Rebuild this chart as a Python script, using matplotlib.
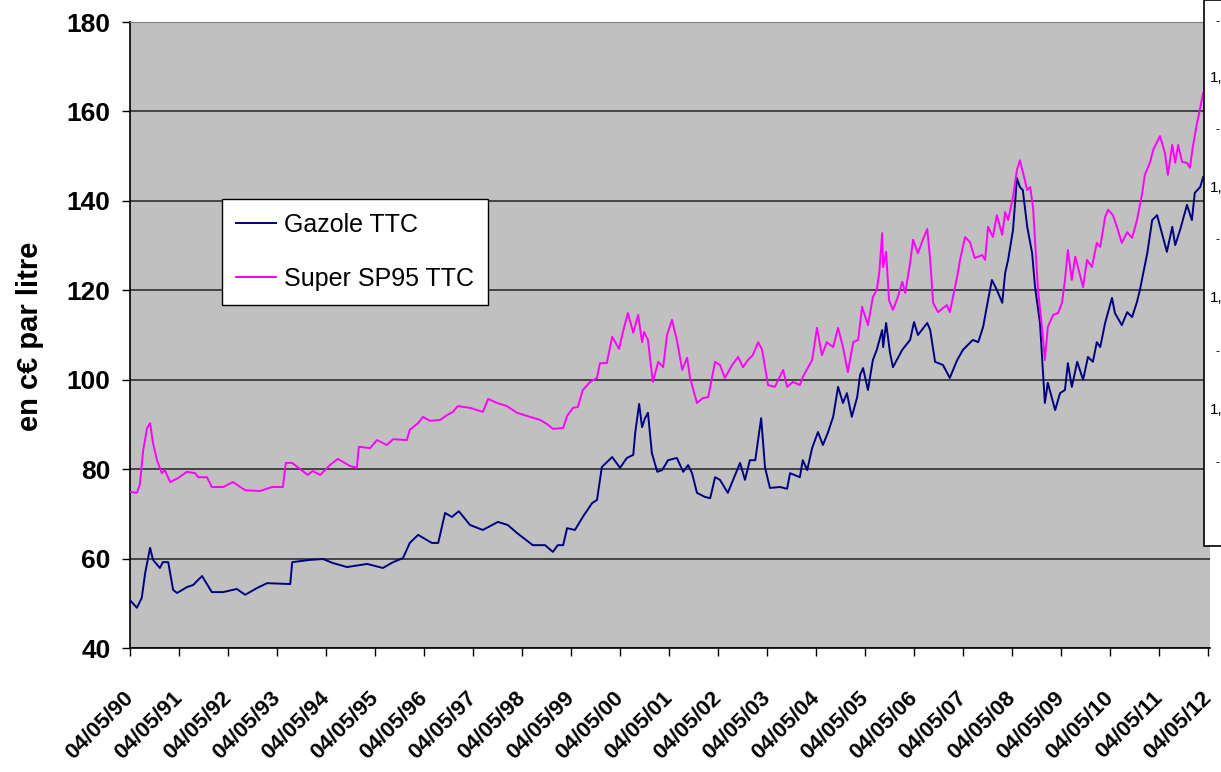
import numpy as np
import matplotlib
matplotlib.use('Agg')
import matplotlib.pyplot as plt
from matplotlib.patches import Rectangle

# prix a la pompe, c€ par litre ; temps en annees depuis le 04/05/90
gazole_t = [0.00, 0.14, 0.24, 0.31, 0.41, 0.47, 0.61, 0.67, 0.78, 0.88, 0.96, 1.16, 1.29, 1.47,
            1.67, 1.90, 2.18, 2.35, 2.59, 2.80, 3.27, 3.31, 3.67, 3.94, 4.14, 4.43, 4.84, 5.16,
            5.37, 5.57, 5.71, 5.88, 6.16, 6.29, 6.43, 6.57, 6.71, 6.94, 7.20, 7.51, 7.71, 7.90,
            8.22, 8.47, 8.63, 8.73, 8.84, 8.92, 9.08, 9.24, 9.43, 9.53, 9.63, 9.84, 10.00, 10.14,
            10.27, 10.31, 10.39, 10.45, 10.51, 10.57, 10.65, 10.76, 10.86, 10.98, 11.16, 11.29,
            11.39, 11.47, 11.57, 11.73, 11.84, 11.94, 12.04, 12.20, 12.45, 12.55, 12.65, 12.76,
            12.88, 12.96, 13.06, 13.27, 13.41, 13.47, 13.67, 13.73, 13.82, 13.92, 14.04, 14.14,
            14.24, 14.35, 14.45, 14.55, 14.63, 14.73, 14.84, 14.90, 14.96, 15.06, 15.16, 15.24,
            15.35, 15.37, 15.43, 15.51, 15.57, 15.76, 15.92, 16.00, 16.08, 16.27, 16.33, 16.43,
            16.59, 16.73, 16.88, 17.00, 17.20, 17.31, 17.41, 17.51, 17.59, 17.69, 17.80, 17.86,
            17.92, 18.02, 18.10, 18.16, 18.22, 18.31, 18.41, 18.47, 18.57, 18.67, 18.73, 18.88,
            18.98, 19.08, 19.14, 19.22, 19.33, 19.45, 19.55, 19.65, 19.73, 19.80, 19.90, 20.04,
            20.10, 20.24, 20.35, 20.45, 20.55, 20.61, 20.76, 20.86, 20.96, 21.08, 21.16, 21.27,
            21.33, 21.43, 21.57, 21.67, 21.73, 21.84, 21.90]
gazole = [50.7, 49.0, 51.2, 56.8, 62.4, 59.7, 57.9, 59.2, 59.2, 53.0, 52.3, 53.6, 54.1, 56.1,
          52.5, 52.5, 53.2, 51.9, 53.4, 54.5, 54.3, 59.2, 59.7, 59.9, 59.0, 58.1, 58.8, 57.9,
          59.2, 60.1, 63.5, 65.3, 63.5, 63.5, 70.2, 69.3, 70.6, 67.5, 66.4, 68.2, 67.5, 65.7,
          63.0, 63.0, 61.5, 63.0, 63.0, 66.8, 66.4, 69.3, 72.4, 73.1, 80.5, 82.7, 80.3, 82.5,
          83.2, 88.1, 94.6, 89.4, 91.4, 92.6, 83.6, 79.4, 79.8, 82.0, 82.5, 79.4,
          80.9, 79.1, 74.7, 73.8, 73.5, 78.2, 77.6, 74.7, 81.4, 77.6, 82.0, 82.0,
          91.4, 80.3, 75.8, 76.0, 75.6, 79.1, 78.2, 82.0, 79.8, 84.7, 88.3, 85.4,
          88.1, 91.7, 98.4, 94.8, 97.0, 91.7, 96.1, 101.1, 102.6, 97.7, 104.4, 106.7,
          111.1, 107.3, 112.7, 106.0, 102.8, 106.7, 108.9, 112.9, 110.0, 112.7, 111.1, 104.0,
          103.3, 100.4, 104.4, 106.7, 108.9, 108.4, 111.8, 117.8, 122.3, 120.1, 117.2, 123.9,
          126.8, 133.5, 145.1, 143.1, 142.4, 134.2, 128.3, 120.7, 112.7, 94.8, 99.3, 93.2,
          97.0, 97.7, 103.7, 98.4, 104.0, 100.0, 105.1, 104.0, 108.4, 107.3, 112.7, 118.3,
          114.9, 112.2, 115.1, 114.0, 117.4, 120.1, 128.3, 135.7, 136.8, 131.9, 128.6, 134.2,
          130.1, 133.5, 139.1, 135.7, 141.8, 143.1, 145.3]

super_t = [0.00, 0.14, 0.20, 0.27, 0.35, 0.41, 0.47, 0.55, 0.65, 0.71, 0.82, 0.98, 1.16, 1.33,
           1.39, 1.57, 1.67, 1.90, 2.10, 2.35, 2.65, 2.90, 3.12, 3.18, 3.31, 3.47, 3.63, 3.73,
           3.88, 4.08, 4.24, 4.49, 4.63, 4.67, 4.90, 5.04, 5.24, 5.37, 5.65, 5.71, 5.88, 5.98,
           6.12, 6.33, 6.47, 6.59, 6.69, 6.94, 7.20, 7.31, 7.49, 7.69, 7.90, 8.16, 8.37, 8.51,
           8.63, 8.84, 8.92, 9.04, 9.14, 9.24, 9.39, 9.53, 9.59, 9.73, 9.84, 9.98, 10.06, 10.16,
           10.27, 10.37, 10.45, 10.49, 10.57, 10.67, 10.78, 10.88, 10.96, 11.06, 11.16, 11.27,
           11.37, 11.43, 11.57, 11.69, 11.80, 11.94, 12.04, 12.14, 12.29, 12.41, 12.51, 12.61,
           12.71, 12.82, 12.90, 13.02, 13.16, 13.33, 13.41, 13.53, 13.67, 13.73, 13.84, 13.92,
           14.02, 14.12, 14.22, 14.35, 14.45, 14.55, 14.65, 14.76, 14.86, 14.94, 15.06, 15.16,
           15.24, 15.29, 15.35, 15.37, 15.43, 15.49, 15.57, 15.67, 15.76, 15.82, 15.92, 15.98,
           16.08, 16.18, 16.27, 16.33, 16.39, 16.49, 16.67, 16.73, 16.88, 16.94, 17.04, 17.14,
           17.24, 17.39, 17.45, 17.51, 17.61, 17.69, 17.80, 17.86, 17.92, 18.02, 18.10, 18.16,
           18.22, 18.31, 18.37, 18.43, 18.53, 18.61, 18.67, 18.73, 18.84, 18.94, 19.02, 19.08,
           19.14, 19.22, 19.29, 19.35, 19.45, 19.53, 19.63, 19.73, 19.80, 19.90, 19.96, 20.06,
           20.14, 20.24, 20.35, 20.45, 20.55, 20.65, 20.71, 20.82, 20.88, 20.96, 21.02, 21.12,
           21.18, 21.27, 21.33, 21.39, 21.47, 21.57, 21.63, 21.69, 21.76, 21.82, 21.90]
super95 = [74.9, 74.7, 76.5, 84.3, 89.2, 90.3, 85.8, 82.0, 79.1, 79.8, 77.1, 78.0, 79.4, 79.1,
           78.2, 78.2, 76.0, 76.0, 77.1, 75.3, 75.1, 76.0, 76.0, 81.4, 81.4, 80.0, 78.7, 79.6,
           78.7, 80.9, 82.3, 80.7, 80.3, 85.0, 84.7, 86.5, 85.4, 86.7, 86.5, 88.8, 90.3, 91.7,
           90.8, 91.0, 92.1, 92.8, 94.1, 93.7, 92.8, 95.7, 94.8, 94.1, 92.6, 91.7, 91.0, 90.1,
           89.0, 89.2, 91.9, 93.7, 93.9, 97.7, 99.5, 100.4, 103.7, 103.7, 109.6, 106.9, 110.7, 114.9,
           110.5, 114.5, 108.4, 110.7, 108.9, 99.5, 104.0, 102.8, 110.0, 113.4, 108.9, 102.2,
           104.9, 100.4, 94.8, 95.9, 96.1, 104.0, 103.3, 100.4, 103.3, 105.1, 102.8, 104.4,
           105.5, 108.4, 106.7, 98.8, 98.4, 102.2, 98.4, 99.5, 98.8, 100.6, 102.8, 104.4,
           111.6, 105.5, 108.4, 107.3, 111.6, 107.3, 101.7, 108.4, 108.9, 116.3, 112.2, 118.5,
           120.1, 123.9, 132.8, 125.2, 128.6, 117.8, 115.6, 118.5, 121.9, 119.4, 126.1, 131.3,
           128.3, 131.3, 133.7, 126.8, 117.2, 115.1, 116.7, 115.1, 123.0, 126.8, 131.9, 130.8,
           127.2, 127.9, 126.8, 134.2, 131.9, 136.8, 132.4, 137.5, 135.7, 140.9, 146.9, 149.1,
           146.5, 142.4, 143.1, 138.4, 120.1, 111.8, 104.4, 111.8, 114.5, 114.9, 117.2, 122.3,
           129.0, 122.3, 127.5, 125.0, 120.7, 126.8, 125.2, 130.6, 129.7, 136.4, 138.0, 136.8,
           134.2, 130.6, 133.0, 131.7, 135.7, 141.3, 145.8, 148.7, 151.4, 153.2, 154.5, 150.7,
           145.8, 152.5, 148.5, 152.5, 148.7, 148.5, 147.4, 152.1, 156.5, 159.7, 164.1]

tick_labels = ['04/05/%02d' % (y % 100) for y in range(1990, 2013)]
y_ticks = [40, 60, 80, 100, 120, 140, 160, 180]

sans = ['Liberation Sans', 'DejaVu Sans']
W, H = 1221, 772

fig = plt.figure(figsize=(W / 100, H / 100), dpi=100)
ax = fig.add_axes([130 / W, 1 - 648 / H, 1080 / W, 626 / H])
ax.set_facecolor('#C0C0C0')

ax.plot(gazole_t, gazole, color='#000080', linewidth=1.4, label='Gazole TTC', zorder=3)
ax.plot(super_t, super95, color='#FF00FF', linewidth=1.4, label='Super SP95 TTC', zorder=3)

ax.set_xlim(0, 22.04)
ax.set_ylim(40, 180)
ax.set_yticks(y_ticks)
ax.set_xticks(range(len(tick_labels)))
ax.set_xticklabels(tick_labels, rotation=45, ha='right', va='center',
                   rotation_mode='anchor', family=sans, fontweight='bold', fontsize=16)
ax.set_yticklabels([str(v) for v in y_ticks], family=sans, fontweight='bold', fontsize=19)
ax.tick_params(axis='x', length=6, width=1, pad=28, direction='out')
ax.tick_params(axis='y', length=6, width=1, pad=8, direction='out')
ax.yaxis.grid(True, color='#222222', linewidth=1.1)
ax.set_axisbelow(True)
for s in ['left', 'bottom']:
    ax.spines[s].set_color('black')
    ax.spines[s].set_linewidth(1.2)
ax.spines['top'].set_color('#808080')
ax.spines['right'].set_visible(False)

fig.text(30 / W, 1 - 336 / H, 'en c€ par litre', rotation=90, ha='center', va='center',
         fontsize=21, fontweight='bold', family=sans)

leg = ax.legend(loc='upper left', bbox_to_anchor=(0.085, 0.717), borderaxespad=0,
                fancybox=False, framealpha=1, edgecolor='black', handlelength=1.6,
                handletextpad=0.35, borderpad=0.55, labelspacing=1.2,
                prop={'family': sans, 'size': 18})
leg.get_frame().set_linewidth(1.0)

# encadre blanc coupe du graphique voisin, a droite
fig.patches.append(Rectangle((1204 / W, 1 - 546 / H), 40 / W, 546 / H, transform=fig.transFigure,
                             facecolor='white', edgecolor='black', linewidth=1.2, zorder=10))
for yp in [78, 188, 298, 410]:
    fig.text(1210 / W, 1 - yp / H, '1,', fontsize=11, family=sans, va='center', zorder=11)
for yp in [22, 130, 240, 352, 463]:
    fig.text(1216 / W, 1 - yp / H, '-', fontsize=9, family=sans, va='center', zorder=11)

plt.savefig('out.png', dpi=100)
